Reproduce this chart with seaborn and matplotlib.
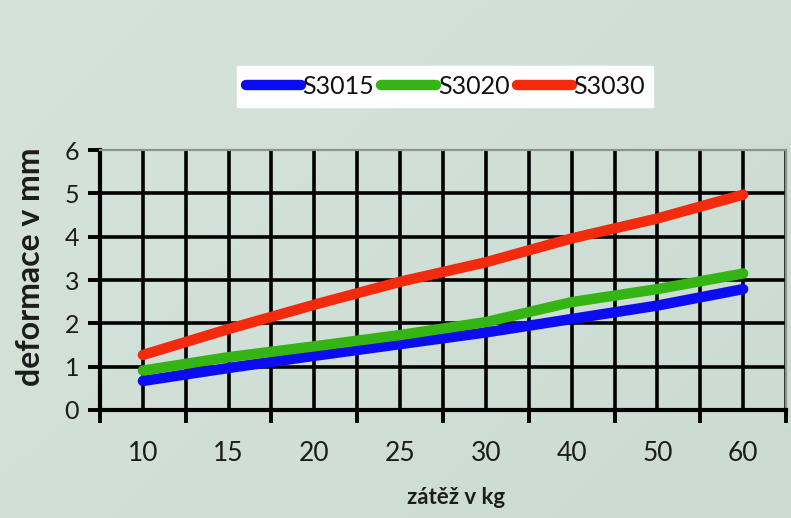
import numpy as np
import pandas as pd
import matplotlib
matplotlib.use("Agg")
import matplotlib.pyplot as plt
import seaborn as sns

# ===== data =====
zatez = ['10', '15', '20', '25', '30', '40', '50', '60']
s3015 = [0.67, 0.97, 1.25, 1.52, 1.79, 2.10, 2.41, 2.79]
s3020 = [0.91, 1.22, 1.47, 1.73, 2.03, 2.49, 2.79, 3.15]
s3030 = [1.27, 1.87, 2.43, 2.96, 3.41, 3.96, 4.42, 4.97]
serie_names = ['S3015', 'S3020', 'S3030']
y_ticks = [0, 1, 2, 3, 4, 5, 6]

cores = {'S3015': '#0c0cf2', 'S3020': '#35b514', 'S3030': '#f42a0c'}

df = pd.DataFrame({
    'zatez': zatez * 3,
    'deformace': s3015 + s3020 + s3030,
    'serie': [n for n in serie_names for _ in zatez],
})

sns.set_style('white')
plt.rcParams['font.family'] = ['Lato', 'DejaVu Sans']

fig = plt.figure(figsize=(7.91, 5.18), dpi=100)

# fundo em degradê (cinza esverdeado claro)
bg = fig.add_axes([0, 0, 1, 1], zorder=-10)
gx, gy = np.meshgrid(np.linspace(0, 1, 200), np.linspace(0, 1, 200))
grad = 0.6 * gx + 0.4 * gy
c1 = np.array([0.835, 0.890, 0.860])
c2 = np.array([0.800, 0.860, 0.825])
img = c1[None, None, :] * (1 - grad[..., None]) + c2[None, None, :] * grad[..., None]
bg.imshow(img, aspect='auto', extent=[0, 1, 0, 1], origin='upper')
bg.axis('off')

ax = fig.add_axes([0.1264, 0.2085, 0.8673, 0.5019])
ax.set_facecolor('none')

sns.lineplot(data=df, x='zatez', y='deformace', hue='serie',
             palette=cores, linewidth=7.5, solid_capstyle='round',
             sort=False, legend=False, ax=ax, zorder=3)
handles = list(ax.lines)

n = len(zatez)
ax.set_xlim(-0.5, n - 0.5)
ax.set_ylim(y_ticks[0], y_ticks[-1])

# grade preta: a cada meia categoria e a cada unidade
for xv in np.arange(0, n - 0.5 + 0.01, 0.5):
    ax.axvline(xv, color='black', lw=2.6, zorder=1)
for yv in y_ticks[1:-1]:
    ax.axhline(yv, color='black', lw=2.6, zorder=1)

# ticks
ax.set_xticks(range(n), zatez)
ax.set_xticks(np.arange(-0.5, n, 1.0), minor=True)
ax.tick_params(axis='x', which='major', length=0, pad=22,
               labelsize=19, labelcolor='#1c1c1c')
ax.tick_params(axis='x', which='minor', length=9, width=2.8,
               direction='out', color='black', bottom=True)
ax.set_yticks(y_ticks)
ax.tick_params(axis='y', length=9, width=2.8, direction='out',
               color='black', left=True, pad=6,
               labelsize=18, labelcolor='#1c1c1c')

for s in ['left', 'bottom']:
    ax.spines[s].set_color('black')
    ax.spines[s].set_linewidth(3)
for s in ['top', 'right']:
    ax.spines[s].set_color('#8c9490')
    ax.spines[s].set_linewidth(1.6)

ax.set_xlabel('zátěž v kg', fontsize=16, fontweight='bold', color='#1c1c1c')
ax.set_ylabel('deformace v mm', fontsize=23, fontweight='bold', color='#1c1c1c')
ax.xaxis.set_label_coords(0.519, -0.295)
ax.yaxis.set_label_coords(-0.08, 0.55)

leg = fig.legend(handles, serie_names, loc='center',
                 bbox_to_anchor=(0.563, 0.833), ncol=3, fontsize=18,
                 frameon=True, fancybox=False, handlelength=2.2,
                 handletextpad=0.05, columnspacing=0.3, borderpad=0.35,
                 borderaxespad=0)
leg.get_frame().set_facecolor('white')
leg.get_frame().set_edgecolor('white')
leg.get_frame().set_alpha(1)
for t in leg.get_texts():
    t.set_color('#111111')

plt.savefig('out.png', dpi=100)
